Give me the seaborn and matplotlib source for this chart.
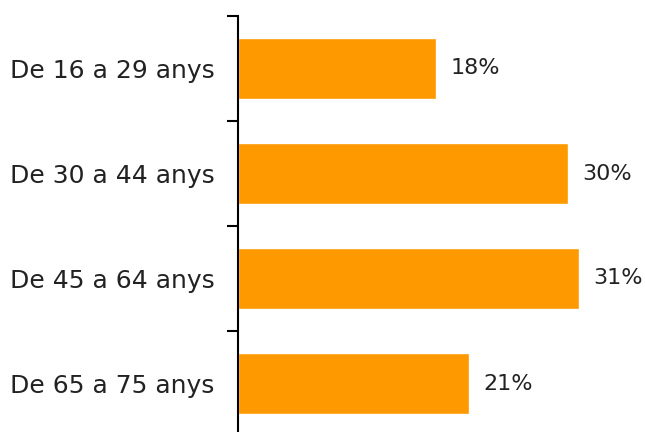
import matplotlib
matplotlib.use('Agg')
import matplotlib.pyplot as plt
import seaborn as sns
import pandas as pd

# age groups and share of respondents (%)
groups = ['De 16 a 29 anys', 'De 30 a 44 anys', 'De 45 a 64 anys', 'De 65 a 75 anys']
values = [18, 30, 31, 21]
labels = ['18%', '30%', '31%', '21%']

df = pd.DataFrame({'group': groups, 'value': values})

sns.set_style('white')
plt.rcParams['font.family'] = ['DejaVu Sans']

fig = plt.figure(figsize=(6.45, 4.32), dpi=100)
ax = fig.add_axes([238 / 645, -4 / 432, 407 / 645, 420 / 432])

sns.barplot(data=df, x='value', y='group', orient='h', color='#FF9900',
            saturation=1, width=0.59, ax=ax)

for i, (v, lab) in enumerate(zip(values, labels)):
    ax.text(v + 1.3, i, lab, va='center', ha='left', fontsize=16, color='#222222')

ax.set_xlim(0, 37)
ax.set_ylim(3.5, -0.5)
ax.set_xlabel('')
ax.set_ylabel('')
ax.set_xticks([])
ax.tick_params(axis='y', which='major', left=False, length=0, pad=17,
               labelsize=18, labelcolor='#222222')
ax.set_yticks([-0.5, 0.5, 1.5, 2.5], minor=True)
ax.tick_params(axis='y', which='minor', left=True, length=8, width=1.5,
               color='black', direction='out')

for s in ['top', 'right', 'bottom']:
    ax.spines[s].set_visible(False)
ax.spines['left'].set_color('black')
ax.spines['left'].set_linewidth(1.5)

fig.savefig('out.png', dpi=100)
